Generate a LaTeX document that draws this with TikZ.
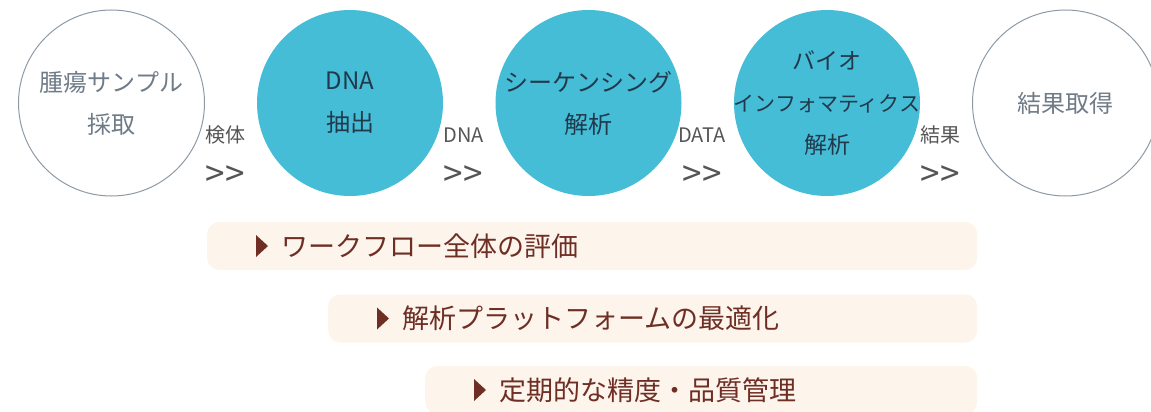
\documentclass[tikz,border=0pt]{standalone}
\usepackage{fontspec}
\setmainfont{Noto Sans CJK JP}

\definecolor{stepblue}{HTML}{45BDD7}
\definecolor{ringgray}{HTML}{8D9AA6}
\definecolor{inkgray}{HTML}{6F7B87}
\definecolor{inknavy}{HTML}{22394A}
\definecolor{labelgray}{HTML}{555555}
\definecolor{barfill}{HTML}{FDF4EC}
\definecolor{barink}{HTML}{6E2E24}

\begin{document}
\begin{tikzpicture}[
    x=1pt,
    y=-1pt,
    open/.style={circle, draw=ringgray, line width=1pt, minimum size=186pt,
      inner sep=0pt, text=inkgray, align=center, font=\fontsize{24}{42}\selectfont},
    filled/.style={circle, fill=stepblue, minimum size=186pt,
      inner sep=0pt, text=inknavy, align=center, font=\fontsize{24}{42}\selectfont},
    tag/.style={text=labelgray, inner sep=0pt, font=\fontsize{20}{22}\selectfont},
    bar/.style={anchor=west, fill=barfill, rounded corners=12pt, minimum height=48pt,
      inner sep=0pt, align=left, text=barink, font=\fontsize{27}{30}\selectfont}]

    \useasboundingbox (0,0) rectangle (1151,412);

    % Steps
    \node[open]   (sample)  at (111.5,103) {腫瘍サンプル\\採取};
    \node[filled] (extract) at (350,103)   {DNA\\抽出};
    \node[filled] (seq)     at (588.5,103) {シーケンシング\\解析};
    \node[filled, font=\fontsize{23}{42}\selectfont]
                  (bioinfo) at (827,103)
      {\makebox[0pt]{バイオ}\\\makebox[0pt]{\fontsize{21}{42}\selectfont インフォマティクス}\\\makebox[0pt]{解析}};
    \node[open]   (result)  at (1065.5,103) {結果取得};

    % Hand-over labels
    \foreach \txt [count=\i] in {検体, DNA, DATA, 結果} {
      \pgfmathsetmacro\x{111.5 + 238.5*(\i-1) + 113.5}
      \node[tag] (tag\i) at (\x, 135) {\txt};
      \node[tag, font=\fontsize{35}{36}\selectfont] (go\i) at (\x, 176) {>\kern1pt>};
    }

    % Evaluation bars
    \foreach \name/\left/\mid/\txt in {
        flow/207/246/ワークフロー全体の評価,
        platform/328/318.5/解析プラットフォームの最適化,
        quality/425/390/定期的な精度・品質管理} {
      \pgfmathsetmacro\w{977 - \left}
      \node[bar, minimum width=\w pt, text width=\w pt] (\name) at (\left, \mid)
        {\hspace*{74pt}\txt};
      \fill[barink] ([xshift=49pt]\name.west) ++(0,-11) -- ++(12,11) -- ++(-12,11) -- cycle;
    }
  \end{tikzpicture}
\end{document}
